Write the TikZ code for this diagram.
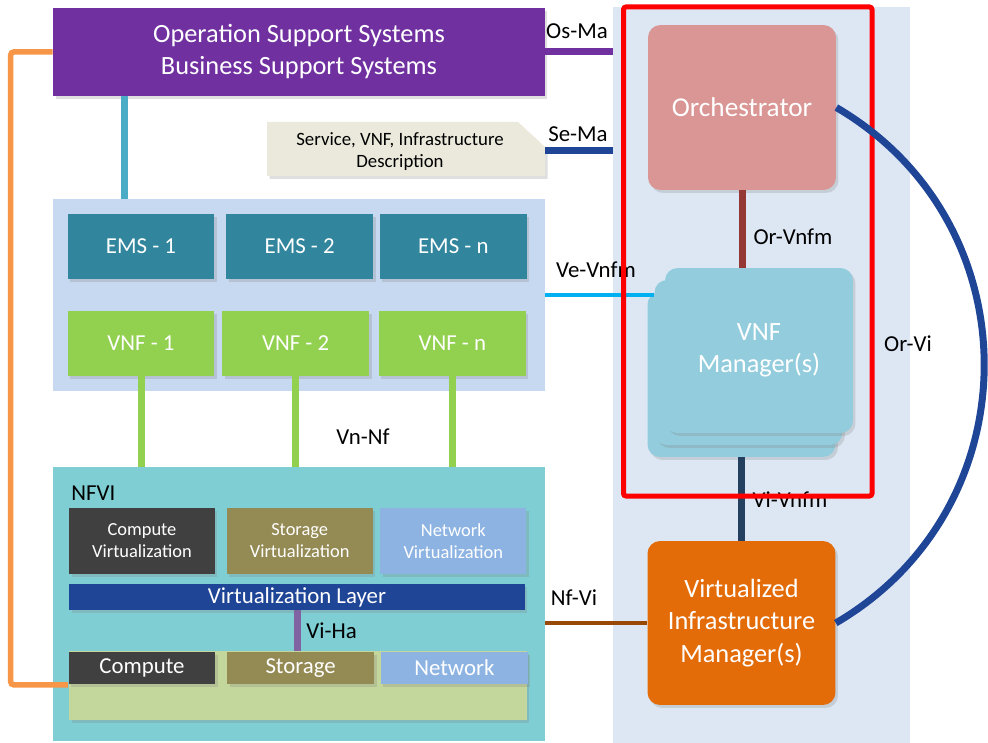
\documentclass[tikz,border=0pt]{standalone}
\usepackage{fontspec}
\setmainfont{Carlito}
\usetikzlibrary{positioning,shadows}
\definecolor{osscolor}{RGB}{112,48,160}
\definecolor{orangeline}{RGB}{247,150,70}
\definecolor{tealline}{RGB}{75,172,198}
\definecolor{desccolor}{RGB}{235,233,219}
\definecolor{darkblue}{RGB}{31,69,151}
\definecolor{panelcolor}{RGB}{221,231,244}
\definecolor{orchcolor}{RGB}{217,150,148}
\definecolor{orvnfm}{RGB}{149,55,53}
\definecolor{mgrcolor}{RGB}{147,205,221}
\definecolor{vevnfm}{RGB}{0,176,240}
\definecolor{vivnfm}{RGB}{36,64,97}
\definecolor{vimcolor}{RGB}{227,108,9}
\definecolor{nfvi}{RGB}{152,72,7}
\definecolor{emsbgcolor}{RGB}{198,217,241}
\definecolor{emscolor}{RGB}{49,133,156}
\definecolor{vnfcolor}{RGB}{146,208,80}
\definecolor{nfvicolor}{RGB}{127,206,211}
\definecolor{computecolor}{RGB}{64,64,64}
\definecolor{storagecolor}{RGB}{148,138,84}
\definecolor{networkcolor}{RGB}{141,179,226}
\definecolor{vihacolor}{RGB}{128,100,162}
\definecolor{hwcolor}{RGB}{195,214,155}

\begin{document}
\begin{tikzpicture}[x=0.02cm,y=-0.02cm,
	softshadow/.style={drop shadow={shadow xshift=0.05cm, shadow yshift=-0.06cm, opacity=0.25}},
	box/.style={inner sep=0pt, align=center, text=white, softshadow},
	bigbox/.style={box, rounded corners=0.25cm, minimum width=3.76cm, minimum height=3.3cm, font=\fontsize{15}{18.4}\selectfont},
	rowbox/.style={box, minimum width=2.94cm, minimum height=1.3cm, font=\fontsize{13}{16}\selectfont},
	virtbox/.style={box, minimum width=2.92cm, minimum height=1.32cm, font=\fontsize{10.5}{12.5}\selectfont},
	hwbox/.style={box, minimum width=2.94cm, minimum height=0.66cm, font=\fontsize{13}{16}\selectfont},
	lbl/.style={inner sep=0pt, font=\fontsize{13}{16}\selectfont},
	link/.style={line width=0.14cm},
	thinlink/.style={line width=0.07cm}]

	\useasboundingbox (0,0) rectangle (988,743);

	% MANO side
	\node[fill=panelcolor, inner sep=0pt, minimum width=5.94cm, minimum height=14.72cm] (panel) at (761.5,375) {};
	\node[bigbox, fill=orchcolor, font=\fontsize{15.5}{18.4}\selectfont] (orch) at (742,107.5) {Orchestrator};
	\node[bigbox, fill=mgrcolor] (mgr3) at (741.5,374.5) {};
	\node[bigbox, fill=mgrcolor] (mgr2) at (748.5,362.5) {};
	\node[bigbox, fill=mgrcolor] (mgr1) at (759,350.5) {VNF\\Manager(s)};
	\node[bigbox, fill=vimcolor, minimum height=3.28cm] (vim) at (741.5,623) {Virtualized\\Infrastructure\\Manager(s)};

	% OSS/BSS and descriptors
	\node[box, fill=osscolor, minimum width=9.84cm, minimum height=1.76cm, font=\fontsize{15}{18.2}\selectfont] (oss) at (299,52) {Operation Support Systems\\Business Support Systems};
	\fill[desccolor, softshadow] (267,122) -- (518,122) -- (545,147) -- (545,176) -- (267,176) -- cycle;
	\node[inner sep=0pt, align=center, font=\fontsize{10.7}{12.5}\selectfont] (desc) at (400,152) {Service, VNF, Infrastructure\\Description};
	\coordinate (descedge) at (545,151);

	% EMS / VNF
	\node[fill=emsbgcolor, inner sep=0pt, minimum width=9.84cm, minimum height=3.84cm] (emsbg) at (299,295) {};
	\node[rowbox, fill=emscolor] (ems1) at (141,246.5) {EMS - 1};
	\node[rowbox, fill=emscolor] (ems2) [right = 0.22cm of ems1] {EMS - 2};
	\node[rowbox, fill=emscolor] (emsn) [right = 0.12cm of ems2] {EMS - n};
	\node[rowbox, fill=vnfcolor] (vnf1) [below = 0.62cm of ems1] {VNF - 1};
	\node[rowbox, fill=vnfcolor] (vnf2) [right = 0.14cm of vnf1] {VNF - 2};
	\node[rowbox, fill=vnfcolor] (vnfn) [right = 0.18cm of vnf2] {VNF - n};

	% NFVI
	\node[fill=nfvicolor, inner sep=0pt, minimum width=9.84cm, minimum height=5.48cm] (nfvibg) at (299,604) {};
	\node[lbl, anchor=west] (nfvilbl) at (71,493) {NFVI};
	\node[virtbox, fill=computecolor] (cv) at (142,541) {Compute\\Virtualization};
	\node[virtbox, fill=storagecolor] (sv) [right = 0.22cm of cv] {Storage\\Virtualization};
	\node[virtbox, fill=networkcolor] (nv) [right = 0.14cm of sv] {Network\\Virtualization};
	\node[box, fill=darkblue, minimum width=9.12cm, minimum height=0.52cm, font=\fontsize{13}{16}\selectfont] (vl) at (297,597) {Virtualization Layer};
	\node[box, fill=hwcolor, minimum width=9.16cm, minimum height=1.38cm] (hw) at (298,685.5) {};
	\node[hwbox, fill=computecolor] (hc) at (142,668) {Compute};
	\node[hwbox, fill=storagecolor] (hs) [right = 0.22cm of hc] {Storage};
	\node[hwbox, fill=networkcolor] (hn) [right = 0.12cm of hs] {Network};

	% reference points
	\draw[link, osscolor] (oss.east) -- (oss.east -| panel.west);
	\draw[link, darkblue] (descedge) -- (descedge -| panel.west);
	\draw[link, tealline] ([xshift=-3.5cm]oss.south) -- ([xshift=-3.5cm]oss.south |- emsbg.north);
	\draw[line width=0.11cm, orangeline, rounded corners=0.06cm] (oss.west) -- ++(-42,0) |- (hc.south west);
	\draw[thinlink, vevnfm] (emsbg.east) -- (emsbg.east -| mgr2.west);
	\draw[thinlink, nfvi] (nfvibg.east |- vim.west) -- (vim.west);
	\foreach \v in {vnf1,vnf2,vnfn}
		\draw[link, vnfcolor] (\v.south) -- (\v.south |- nfvibg.north);
	\draw[link, vihacolor] (vl.south) -- (vl.south |- hw.north);
	\draw[link, orvnfm] (orch.south) -- (orch.south |- mgr1.north);
	\draw[link, vivnfm] (mgr3.south) -- (vim.north);

	\node[lbl] (osma) at (577,31) {Os-Ma};
	\node[lbl] (sema) at (578,134) {Se-Ma};
	\node[lbl] (vevnfmlbl) at (596,270) {Ve-Vnfm};
	\node[lbl] (vnnf) at (363,437) {Vn-Nf};
	\node[lbl, anchor=west] (viha) at (306,631) {Vi-Ha};
	\node[lbl] (nfvilbl2) at (574,598) {Nf-Vi};
	\node[lbl] (orvnfmlbl) at (793,237) {Or-Vnfm};
	\node[lbl] (vivnfmlbl) at (790,500) {Vi-Vnfm};
	\node[lbl] (orvi) at (908,344) {Or-Vi};

	\draw[red, line width=0.1cm, rounded corners=0.05cm] (623.5,7) rectangle (872,496);

	\draw[link, darkblue] (orch.east) .. controls +(197.5,115.5) and +(197.5,-115.5) .. (vim.east);

\end{tikzpicture}
\end{document}
